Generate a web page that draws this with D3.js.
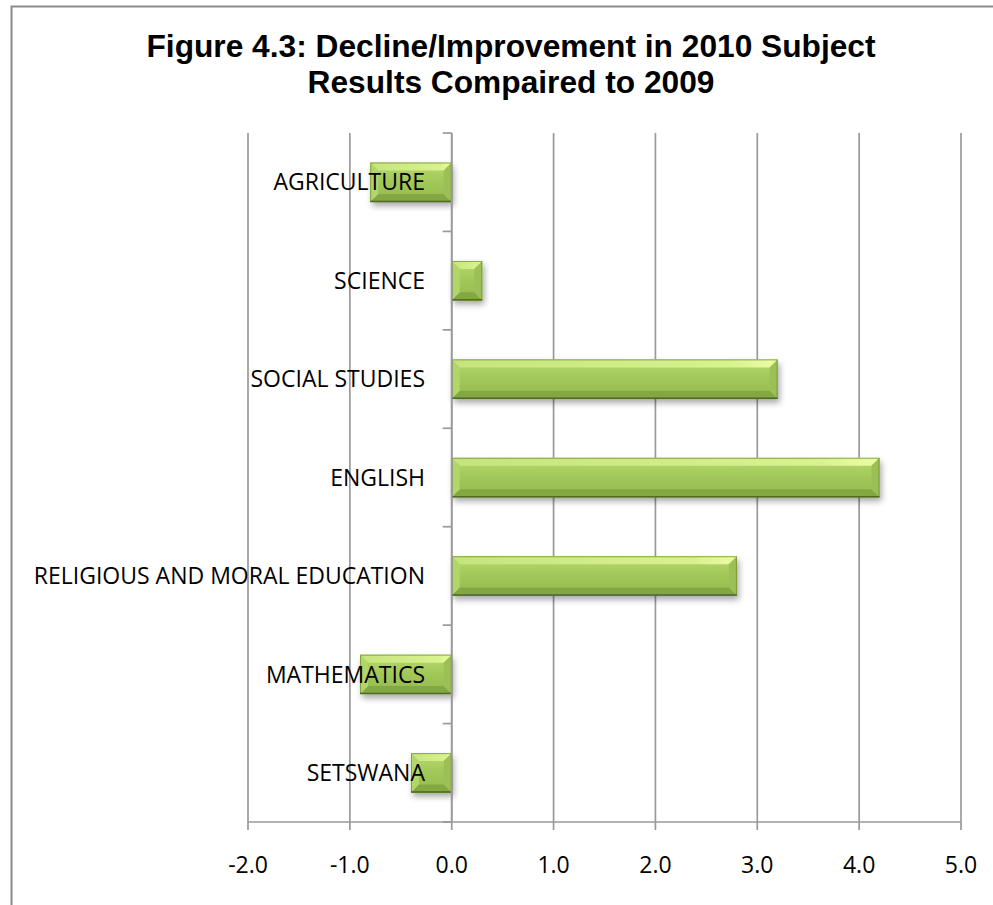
<!DOCTYPE html>
<html><head><meta charset="utf-8">
<script src="https://cdn.jsdelivr.net/npm/d3@7"></script>
<style>
html,body{margin:0;padding:0;background:#fff;overflow:hidden;}
svg{display:block;overflow:hidden;}
</style></head>
<body>
<svg id="chart" width="993" height="905"></svg>
<script>
const titleLines = ["Figure 4.3: Decline/Improvement in 2010 Subject", "Results Compaired to 2009"];
const categories = ["AGRICULTURE", "SCIENCE", "SOCIAL STUDIES", "ENGLISH", "RELIGIOUS AND MORAL EDUCATION", "MATHEMATICS", "SETSWANA"];
const values = [-0.8, 0.3, 3.2, 4.2, 2.8, -0.9, -0.4];
const xTicks = [-2, -1, 0, 1, 2, 3, 4, 5];

const svg = d3.select("#chart");
const plot = {left: 248, right: 961, top: 133, bottom: 822};
const x = d3.scaleLinear().domain([-2, 5]).range([plot.left, plot.right]);
const y = d3.scaleBand().domain(categories).range([plot.top, plot.bottom]).paddingInner(0.6).paddingOuter(0.3);

const defs = svg.append("defs");
const g = defs.append("linearGradient").attr("id", "face").attr("x1", 0).attr("y1", 0).attr("x2", 0).attr("y2", 1);
[["0%", "#b8da6e"], ["45%", "#a3c95b"], ["100%", "#94ba4c"]].forEach(s => g.append("stop").attr("offset", s[0]).attr("stop-color", s[1]));
const gt = defs.append("linearGradient").attr("id", "topbev").attr("x1", 0).attr("y1", 0).attr("x2", 1).attr("y2", 0);
[["0%", "#c6e47e"], ["85%", "#d8f28e"], ["100%", "#ecfda4"]].forEach(s => gt.append("stop").attr("offset", s[0]).attr("stop-color", s[1]));
const f = defs.append("filter").attr("id", "shadow").attr("x", "-10%").attr("y", "-30%").attr("width", "130%").attr("height", "180%");
f.append("feDropShadow").attr("dx", 2).attr("dy", 4).attr("stdDeviation", 3).attr("flood-color", "#000").attr("flood-opacity", 0.35);

// chart border (only top and left edges fall inside the picture)
svg.append("path").attr("d", "M11.5,1200V6.5H1200")
  .attr("fill", "none").attr("stroke", "#8c8c8c").attr("stroke-width", 2);

// title
svg.append("g").selectAll("text").data(titleLines).join("text")
  .attr("x", 511).attr("y", (d, i) => 57 + i * 36)
  .attr("text-anchor", "middle")
  .attr("font-family", "'Liberation Sans', Arial, sans-serif")
  .attr("font-weight", "bold").attr("font-size", 31.7).attr("fill", "#000")
  .text(d => d);

const gridColor = "#9a9a9a";
svg.append("g").selectAll("line").data(xTicks).join("line")
  .attr("x1", d => x(d)).attr("x2", d => x(d))
  .attr("y1", plot.top).attr("y2", plot.bottom + 8)
  .attr("stroke", gridColor).attr("stroke-width", 1.7);

svg.append("line").attr("x1", plot.left).attr("x2", plot.right).attr("y1", plot.bottom).attr("y2", plot.bottom)
  .attr("stroke", gridColor).attr("stroke-width", 1.7);

const step = y.step();
const bounds = d3.range(categories.length + 1).map(i => plot.top + i * step);
svg.append("g").selectAll("line").data(bounds).join("line")
  .attr("x1", x(0) - 9).attr("x2", x(0)).attr("y1", d => d).attr("y2", d => d)
  .attr("stroke", gridColor).attr("stroke-width", 1.7);

const bw = y.bandwidth();
const bev = 8;
const bars = svg.append("g").selectAll("g").data(categories.map((c, i) => ({c, v: values[i]}))).join("g");
bars.each(function(d) {
  const x0 = Math.min(x(0), x(d.v)), x1 = Math.max(x(0), x(d.v));
  const y0 = y(d.c), y1 = y0 + bw;
  const w = x1 - x0;
  const b = Math.min(bev, w / 2);
  const s = d3.select(this);
  s.append("rect").attr("x", x0).attr("y", y0).attr("width", w).attr("height", bw)
    .attr("fill", "url(#face)").attr("filter", "url(#shadow)");
  s.append("path").attr("d", `M${x0},${y0}L${x1},${y0}L${x1 - b},${y0 + b}L${x0 + b},${y0 + b}Z`).attr("fill", "url(#topbev)");
  s.append("path").attr("d", `M${x0},${y1}L${x1},${y1}L${x1 - b},${y1 - b}L${x0 + b},${y1 - b}Z`).attr("fill", "#83a742");
  s.append("path").attr("d", `M${x0},${y0}L${x0 + b},${y0 + b}L${x0 + b},${y1 - b}L${x0},${y1}Z`).attr("fill", "#b2d669");
  s.append("path").attr("d", `M${x1},${y0}L${x1 - b},${y0 + b}L${x1 - b},${y1 - b}L${x1},${y1}Z`).attr("fill", "#9cc055");
  s.append("rect").attr("x", x0 + 0.5).attr("y", y0 + 0.5).attr("width", w - 1).attr("height", bw - 1)
    .attr("fill", "none").attr("stroke", "#6c8c30").attr("stroke-width", 1).attr("stroke-opacity", 0.7);
  s.append("line").attr("x1", x0).attr("x2", x1).attr("y1", y1 - 0.5).attr("y2", y1 - 0.5)
    .attr("stroke", "#4f6a22").attr("stroke-width", 1.5);
});

svg.append("line").attr("x1", x(0)).attr("x2", x(0)).attr("y1", plot.top).attr("y2", plot.bottom)
  .attr("stroke", gridColor).attr("stroke-width", 1.7);

const labelFont = "'Open Sans', Lato, sans-serif";
svg.append("g").selectAll("text").data(categories).join("text")
  .attr("x", 425).attr("y", d => y(d) + bw / 2)
  .attr("dy", "0.36em")
  .attr("text-anchor", "end")
  .attr("font-family", labelFont).attr("font-size", 23).attr("fill", "#000")
  .text(d => d);

svg.append("g").selectAll("text").data(xTicks).join("text")
  .attr("x", d => x(d)).attr("y", 873)
  .attr("text-anchor", "middle")
  .attr("font-family", labelFont).attr("font-size", 23).attr("fill", "#000")
  .text(d => d3.format(".1f")(d).replace("\u2212", "-"));
</script>
</body></html>
